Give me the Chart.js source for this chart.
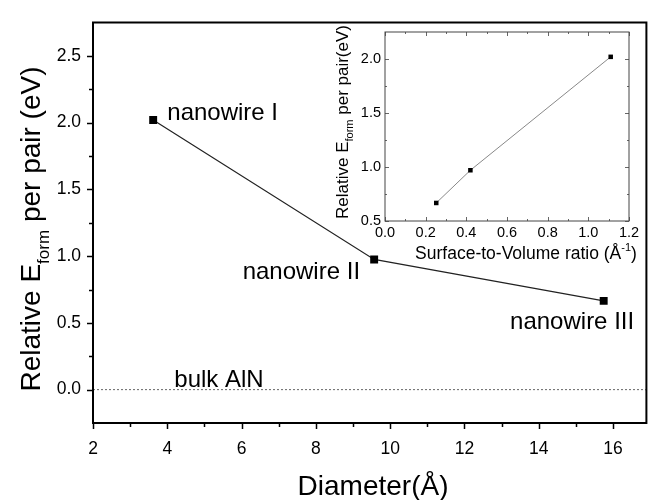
<!DOCTYPE html>
<html>
<head>
<meta charset="utf-8">
<script src="https://cdn.jsdelivr.net/npm/chart.js@4/dist/chart.umd.min.js"></script>
<style>
  html, body { margin: 0; padding: 0; background: #fff; overflow: hidden; }
  #wrap { position: relative; width: 652px; height: 500px; }
  #mainChart { position: absolute; left: 0; top: 0; }
  #insetChart { position: absolute; left: 320px; top: 14px; }
</style>
</head>
<body>
<div id="wrap">
  <canvas id="mainChart" width="652" height="500"></canvas>
  <canvas id="insetChart" width="332" height="256"></canvas>
</div>
<script>
// main plot: formation energy vs diameter
const diameter = [3.62, 9.57, 15.75];
const energy = [2.02, 0.975, 0.665];
const wireNames = ["nanowire I", "nanowire II", "nanowire III"];

// bulk reference line
const bulkX = [2, 16.9];
const bulkY = [0, 0];

// inset: formation energy vs surface-to-volume ratio
const svRatio = [0.252, 0.42, 1.11];
const insetEnergy = [0.667, 0.97, 2.02];

// tick values
const xTicks = [2, 4, 6, 8, 10, 12, 14, 16];
const xMinor = [3, 5, 7, 9, 11, 13, 15];
const yTicks = [0, 0.5, 1, 1.5, 2, 2.5];
const yMinor = [0.25, 0.75, 1.25, 1.75, 2.25];
const insetXTicks = [0, 0.2, 0.4, 0.6, 0.8, 1.0, 1.2];
const insetXMinor = [0.1, 0.3, 0.5, 0.7, 0.9, 1.1];
const insetYTicks = [0.5, 1.0, 1.5, 2.0];
const insetYMinor = [0.75, 1.25, 1.75];

const FONT = "'Liberation Sans', Arial, sans-serif";

// text labels next to the points (data coordinates)
const wireLabels = [
    { text: wireNames[0], x: 4.0, y: 2.018, align: "left" },
    { text: wireNames[1], x: 9.19, y: 0.826, align: "right" },
    { text: wireNames[2], x: 16.57, y: 0.452, align: "right" },
    { text: "bulk AlN", x: 4.19, y: 0.021, align: "left" },
];

function toPoints(xs, ys) {
    return xs.map((x, i) => ({ x: x, y: ys[i] }));
}

// draws a run of text pieces (for subscripts / superscripts), centred on cx
function drawRich(ctx, parts, cx, cy, rotate) {
    ctx.save();
    ctx.translate(cx, cy);
    if (rotate) ctx.rotate(-Math.PI / 2);
    ctx.textBaseline = "alphabetic";
    ctx.textAlign = "left";
    let total = 0;
    parts.forEach((p) => {
        ctx.font = p.size + "px " + FONT;
        p.w = ctx.measureText(p.text).width;
        total += p.w;
    });
    let x = -total / 2;
    parts.forEach((p) => {
        ctx.font = p.size + "px " + FONT;
        ctx.fillStyle = "#000";
        ctx.fillText(p.text, x, p.dy || 0);
        x += p.w;
    });
    ctx.restore();
}

// frame + major/minor ticks, drawn by hand
function drawFrame(chart, o) {
    const ctx = chart.ctx;
    const a = chart.chartArea;
    const xs = chart.scales.x;
    const ys = chart.scales.y;
    const dir = o.inward ? -1 : 1;
    ctx.save();
    ctx.strokeStyle = o.tickColor;
    ctx.lineWidth = o.tickWidth;
    ctx.beginPath();
    const tickX = (vals, len) => vals.forEach((v) => {
        const px = Math.round(xs.getPixelForValue(v)) + 0.5;
        ctx.moveTo(px, a.bottom);
        ctx.lineTo(px, a.bottom + dir * len);
        if (o.mirror) {
            ctx.moveTo(px, a.top);
            ctx.lineTo(px, a.top - dir * len);
        }
    });
    const tickY = (vals, len) => vals.forEach((v) => {
        const py = Math.round(ys.getPixelForValue(v)) + 0.5;
        ctx.moveTo(a.left, py);
        ctx.lineTo(a.left - dir * len, py);
        if (o.mirror) {
            ctx.moveTo(a.right, py);
            ctx.lineTo(a.right + dir * len, py);
        }
    });
    tickX(o.xMajor, o.major);
    tickX(o.xMinor, o.minor);
    tickY(o.yMajor, o.major);
    tickY(o.yMinor, o.minor);
    ctx.stroke();
    ctx.strokeStyle = o.frameColor;
    ctx.lineWidth = o.frameWidth;
    ctx.strokeRect(a.left, a.top, a.right - a.left, a.bottom - a.top);
    ctx.restore();
}

const mainDecor = {
    id: "mainDecor",
    afterDraw(chart) {
        const ctx = chart.ctx;
        drawFrame(chart, {
            inward: false, mirror: false,
            xMajor: xTicks, xMinor: xMinor, yMajor: yTicks, yMinor: yMinor,
            major: 6, minor: 4, tickColor: "#000", tickWidth: 1.5,
            frameColor: "#000", frameWidth: 2,
        });
        const xs = chart.scales.x;
        const ys = chart.scales.y;
        ctx.save();
        ctx.fillStyle = "#000";
        ctx.font = "24px " + FONT;
        ctx.textBaseline = "alphabetic";
        wireLabels.forEach((l) => {
            ctx.textAlign = l.align;
            ctx.fillText(l.text, xs.getPixelForValue(l.x), ys.getPixelForValue(l.y));
        });
        ctx.restore();
        drawRich(ctx, [{ text: "Diameter(Å)", size: 28 }], 373, 495, false);
        drawRich(ctx, [
            { text: "Relative E", size: 28 },
            { text: "form", size: 17, dy: 9 },
            { text: " per pair (eV)", size: 28 },
        ], 40, 229, true);
    },
};

const insetDecor = {
    id: "insetDecor",
    afterDraw(chart) {
        const ctx = chart.ctx;
        drawFrame(chart, {
            inward: true, mirror: true,
            xMajor: insetXTicks, xMinor: insetXMinor, yMajor: insetYTicks, yMinor: insetYMinor,
            major: 4, minor: 2, tickColor: "#666", tickWidth: 1,
            frameColor: "#444", frameWidth: 1,
        });
        drawRich(ctx, [
            { text: "Surface-to-Volume ratio (Å", size: 17.5 },
            { text: "-1", size: 11, dy: -8 },
            { text: ")", size: 17.5 },
        ], 206, 245, false);
        drawRich(ctx, [
            { text: "Relative E", size: 17 },
            { text: "form", size: 11, dy: 5 },
            { text: " per pair(eV)", size: 17 },
        ], 28, 108, true);
    },
};

new Chart(document.getElementById("mainChart").getContext("2d"), {
    type: "scatter",
    data: {
        datasets: [
            {
                label: "bulk",
                data: toPoints(bulkX, bulkY),
                showLine: true,
                borderColor: "#666",
                borderWidth: 1,
                borderDash: [2, 2],
                pointRadius: 0,
            },
            {
                label: "nanowires",
                data: toPoints(diameter, energy),
                showLine: true,
                borderColor: "#222",
                borderWidth: 1.2,
                pointStyle: "rect",
                pointRadius: 5.6,
                pointBackgroundColor: "#000",
                pointBorderColor: "#000",
                pointBorderWidth: 0,
            },
        ],
    },
    options: {
        responsive: false,
        animation: false,
        devicePixelRatio: 1,
        layout: { padding: { top: 13, right: 2, left: 0, bottom: 0 } },
        plugins: { legend: { display: false }, tooltip: { enabled: false } },
        scales: {
            x: {
                type: "linear",
                min: 2,
                max: 16.9,
                grid: { display: false, drawTicks: false },
                border: { display: false },
                afterBuildTicks: (s) => { s.ticks = xTicks.map((v) => ({ value: v })); },
                afterFit: (s) => { s.height = 77; },
                ticks: { padding: 16, color: "#000", font: { family: FONT, size: 17.5 }, maxRotation: 0 },
            },
            y: {
                type: "linear",
                min: -0.25,
                max: 2.75,
                grid: { display: false, drawTicks: false },
                border: { display: false },
                afterBuildTicks: (s) => { s.ticks = yTicks.map((v) => ({ value: v })); },
                afterFit: (s) => { s.width = 93; },
                ticks: {
                    padding: 12,
                    color: "#000",
                    font: { family: FONT, size: 17.5 },
                    callback: (v) => v.toFixed(1),
                },
            },
        },
    },
    plugins: [mainDecor],
});

new Chart(document.getElementById("insetChart").getContext("2d"), {
    type: "scatter",
    data: {
        datasets: [
            {
                label: "inset",
                data: toPoints(svRatio, insetEnergy),
                showLine: true,
                borderColor: "#888",
                borderWidth: 1,
                pointStyle: "rect",
                pointRadius: 3.2,
                pointBackgroundColor: "#000",
                pointBorderColor: "#000",
                pointBorderWidth: 0,
            },
        ],
    },
    options: {
        responsive: false,
        animation: false,
        devicePixelRatio: 1,
        layout: { padding: { top: 18, right: 23, left: 0, bottom: 0 } },
        plugins: { legend: { display: false }, tooltip: { enabled: false } },
        scales: {
            x: {
                type: "linear",
                min: 0,
                max: 1.2,
                grid: { display: false, drawTicks: false },
                border: { display: false },
                afterBuildTicks: (s) => { s.ticks = insetXTicks.map((v) => ({ value: v })); },
                afterFit: (s) => { s.height = 49; },
                ticks: {
                    padding: 3,
                    color: "#000",
                    font: { family: FONT, size: 14.5 },
                    maxRotation: 0,
                    callback: (v) => v.toFixed(1),
                },
            },
            y: {
                type: "linear",
                min: 0.5,
                max: 2.25,
                grid: { display: false, drawTicks: false },
                border: { display: false },
                afterBuildTicks: (s) => { s.ticks = insetYTicks.map((v) => ({ value: v })); },
                afterFit: (s) => { s.width = 65; },
                ticks: {
                    padding: 4,
                    color: "#000",
                    font: { family: FONT, size: 14.5 },
                    callback: (v) => v.toFixed(1),
                },
            },
        },
    },
    plugins: [insetDecor],
});
</script>
</body>
</html>
